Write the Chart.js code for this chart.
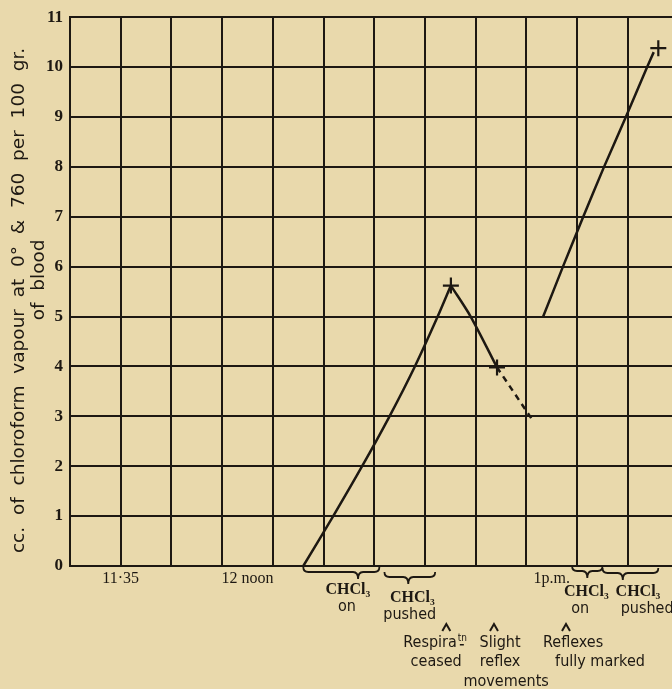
<!DOCTYPE html>
<html>
<head>
<meta charset="utf-8">
<script src="https://cdn.jsdelivr.net/npm/chart.js@4.4.1/dist/chart.umd.min.js"></script>
<style>
  html, body { margin: 0; padding: 0; background: #e9d9ac; }
  #wrap { width: 672px; height: 689px; }
</style>
</head>
<body>
<div id="wrap"><canvas id="chloroChart"></canvas></div>
<script>
// time is in minutes from 12 noon
const gridTimes = [-35, -25, -15, -5, 5, 15, 25, 35, 45, 55, 65, 75];
const timeTicks = [-25, 0, 60];
const timeLabels = ['11·35', '12 noon', '1p.m.'];

const riseTimes = [11, 16.9, 22.6, 28.0, 33.0, 37.5, 40.1];
const riseValues = [0, 1, 2, 3, 4, 5, 5.62];
const fallTimes = [40.1, 44, 49.2];
const fallValues = [5.62, 5.0, 3.98];
const dashTimes = [49.2, 56.1];
const dashValues = [3.98, 2.94];
const secondTimes = [58.3, 62.2, 66.2, 70.3, 74.6, 78.8, 80.1];
const secondValues = [5, 6, 7, 8, 9, 10, 10.3];
const crossTimes = [40.1, 49.2, 81.0];
const crossValues = [5.62, 3.98, 10.38];

const braceFrom = [11, 27, 64, 70];
const braceTo = [26, 37, 70, 81];
const braceTip = [21.8, 31.7, 67, 74];
const braceLabelAt = [[19.8, 19.6], [32.5, 32], [66.8, 65.6], [77, 78.8]];
const braceText = [['CHCl₃', 'on'], ['CHCl₃', 'pushed'], ['CHCl₃', 'on'], ['CHCl₃', 'pushed']];

const eventTimes = [39.2, 48.6, 62.8];
const eventLineAt = [[36.0, 37.2], [49.8, 49.8, 51], [64.2, 69.5]];
const eventText = [['Respira', 'ceased'], ['Slight', 'reflex', 'movements'], ['Reflexes', 'fully marked']];

const ink = '#1d1812';
const paper = '#e9d9ac';
const noteFont = "16px 'DejaVu Sans Condensed', 'DejaVu Sans', sans-serif";

function pts(xs, ys) {
  return xs.map((x, i) => ({x: x, y: ys[i]}));
}

const paperBg = {
  id: 'paperBg',
  beforeDraw(chart) {
    const ctx = chart.ctx;
    ctx.save();
    ctx.fillStyle = paper;
    ctx.fillRect(0, 0, chart.width, chart.height);
    ctx.restore();
  }
};

function brace(ctx, x1, x2, xt, y, d) {
  const r = 5;
  ctx.beginPath();
  ctx.moveTo(x1, y - r);
  ctx.quadraticCurveTo(x1, y, x1 + r, y);
  ctx.lineTo(xt - r, y);
  ctx.quadraticCurveTo(xt, y, xt, y + d);
  ctx.quadraticCurveTo(xt, y, xt + r, y);
  ctx.lineTo(x2 - r, y);
  ctx.quadraticCurveTo(x2, y, x2, y - r);
  ctx.stroke();
}

const notes = {
  id: 'notes',
  afterDraw(chart) {
    const ctx = chart.ctx;
    const xs = chart.scales.x;
    const base = chart.chartArea.bottom;
    const braceDy = [6, 11, 5, 7];
    const labelDy = [24, 32, 26, 26];
    ctx.save();
    ctx.strokeStyle = ink;
    ctx.fillStyle = ink;
    ctx.lineWidth = 1.8;
    ctx.textAlign = 'center';
    ctx.textBaseline = 'middle';
    braceFrom.forEach((t, i) => {
      brace(ctx, xs.getPixelForValue(t), xs.getPixelForValue(braceTo[i]),
        xs.getPixelForValue(braceTip[i]), base + braceDy[i], 7);
      ctx.font = "bold 16px 'Liberation Serif', serif";
      ctx.fillText(braceText[i][0], xs.getPixelForValue(braceLabelAt[i][0]), base + labelDy[i]);
      ctx.font = noteFont;
      ctx.fillText(braceText[i][1], xs.getPixelForValue(braceLabelAt[i][1]), base + labelDy[i] + 17);
    });
    const rowDy = [77, 96, 116];
    eventTimes.forEach((t, i) => {
      const cx = xs.getPixelForValue(t);
      ctx.lineWidth = 2;
      ctx.beginPath();
      ctx.moveTo(cx - 4, base + 65);
      ctx.lineTo(cx, base + 58);
      ctx.lineTo(cx + 4, base + 65);
      ctx.stroke();
      ctx.font = noteFont;
      eventText[i].forEach((txt, j) => {
        const px = xs.getPixelForValue(eventLineAt[i][j]);
        ctx.fillText(txt, px, base + rowDy[j]);
        if (i === 0 && j === 0) {
          // superscript contraction mark of "Respira(tio)n"
          const w = ctx.measureText(txt).width;
          ctx.font = "10px 'DejaVu Sans Condensed', 'DejaVu Sans', sans-serif";
          ctx.textAlign = 'left';
          ctx.fillText('tn', px + w / 2 + 1, base + rowDy[j] - 5);
          ctx.fillRect(px + w / 2 + 3, base + rowDy[j] + 1, 4, 1.5);
          ctx.textAlign = 'center';
          ctx.font = noteFont;
        }
      });
    });
    ctx.restore();
  }
};

const lineStyle = {
  showLine: true,
  borderColor: ink,
  borderWidth: 2.5,
  pointRadius: 0,
  tension: 0.3
};

new Chart(document.getElementById('chloroChart'), {
  type: 'scatter',
  data: {
    datasets: [
      Object.assign({label: 'rise', data: pts(riseTimes, riseValues)}, lineStyle),
      Object.assign({label: 'fall', data: pts(fallTimes, fallValues)}, lineStyle),
      Object.assign({label: 'dashed', data: pts(dashTimes, dashValues), borderDash: [6, 5]}, lineStyle),
      Object.assign({label: 'second', data: pts(secondTimes, secondValues)}, lineStyle, {tension: 0.15}),
      {
        label: 'marks',
        data: pts(crossTimes, crossValues),
        showLine: false,
        pointStyle: 'cross',
        pointRadius: 8,
        pointBorderWidth: 2.2,
        pointBorderColor: ink
      }
    ]
  },
  options: {
    responsive: true,
    maintainAspectRatio: false,
    animation: false,
    layout: {autoPadding: false, padding: {top: 14, left: 0, right: 0, bottom: 0}},
    plugins: {legend: {display: false}, tooltip: {enabled: false}},
    scales: {
      x: {
        type: 'linear',
        min: -35,
        max: 83.7,
        afterBuildTicks: s => {
          const all = gridTimes.concat(timeTicks.filter(t => !gridTimes.includes(t)));
          s.ticks = all.sort((a, b) => a - b).map(v => ({value: v}));
        },
        afterFit: s => { s.height = 123; s.paddingRight = 0; s.paddingLeft = 0; },
        grid: {
          color: c => (c.tick && gridTimes.includes(c.tick.value)) ? ink : 'rgba(0,0,0,0)',
          lineWidth: 2,
          drawTicks: false
        },
        border: {color: ink, width: 2},
        ticks: {
          autoSkip: false,
          maxRotation: 0,
          padding: 3,
          color: ink,
          font: {family: "'Liberation Serif', serif", size: 16},
          callback: v => {
            const i = timeTicks.indexOf(v);
            return i >= 0 ? timeLabels[i] : '';
          }
        }
      },
      y: {
        min: 0,
        max: 11,
        afterFit: s => { s.width = 70; },
        grid: {color: ink, lineWidth: 2, drawTicks: false},
        border: {color: ink, width: 2},
        ticks: {
          stepSize: 1,
          padding: 7,
          color: ink,
          font: {family: "'Liberation Serif', serif", size: 17, weight: 'bold'}
        },
        title: {
          display: true,
          text: ['cc.  of  chloroform  vapour  at  0°  &  760  per  100  gr.   ', '    of  blood'],
          color: ink,
          font: {family: "'DejaVu Sans', sans-serif", size: 18.5, lineHeight: 1.1},
          padding: {top: 9, bottom: 0}
        }
      }
    }
  },
  plugins: [paperBg, notes]
});
</script>
</body>
</html>
